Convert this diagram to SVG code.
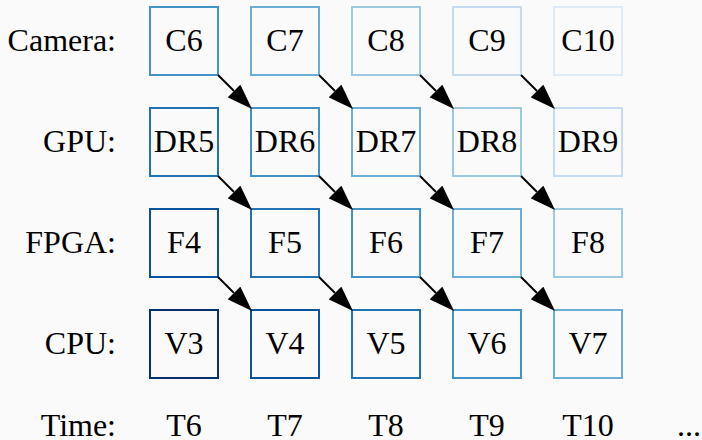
<svg xmlns="http://www.w3.org/2000/svg" width="702" height="440" viewBox="0 0 702 440">
  <defs>
    <marker id="head" markerUnits="userSpaceOnUse" markerWidth="26" markerHeight="18" refX="0" refY="9" orient="auto" viewBox="0 0 26 18">
      <path d="M0,0 L25.5,9 L0,18 Z" fill="#000"/>
    </marker>
  </defs>
  <rect width="702" height="440" fill="#fafafa"/>

  <!-- row labels -->
  <g id="labels" text-anchor="end">
    <text x="116" y="51" font-family="Liberation Serif" font-size="32">Camera:</text>
    <text x="116" y="152" font-family="Liberation Serif" font-size="32">GPU:</text>
    <text x="116" y="253" font-family="Liberation Serif" font-size="32">FPGA:</text>
    <text x="116" y="354" font-family="Liberation Serif" font-size="32">CPU:</text>
    <text x="116" y="436" font-family="Liberation Serif" font-size="32">Time:</text>
  </g>

  <g fill="none" stroke-width="2" text-anchor="middle">
  <!-- camera row -->
  <g id="C6"><rect stroke="#4292c6" x="150" y="7" width="68" height="68"/><text fill="#000" x="184" y="51" font-family="Liberation Serif" font-size="32">C6</text></g>
  <g id="C7"><rect stroke="#6baed6" x="251" y="7" width="68" height="68"/><text fill="#000" x="285" y="51" font-family="Liberation Serif" font-size="32">C7</text></g>
  <g id="C8"><rect stroke="#9ecae1" x="352" y="7" width="68" height="68"/><text fill="#000" x="386" y="51" font-family="Liberation Serif" font-size="32">C8</text></g>
  <g id="C9"><rect stroke="#c6dbef" x="453" y="7" width="68" height="68"/><text fill="#000" x="487" y="51" font-family="Liberation Serif" font-size="32">C9</text></g>
  <g id="C10"><rect stroke="#deebf7" x="554" y="7" width="68" height="68"/><text fill="#000" x="588" y="51" font-family="Liberation Serif" font-size="32">C10</text></g>

  <!-- GPU row -->
  <g id="DR5"><rect stroke="#2171b5" x="150" y="108" width="68" height="68"/><text fill="#000" x="184" y="152" font-family="Liberation Serif" font-size="32">DR5</text></g>
  <g id="DR6"><rect stroke="#4292c6" x="251" y="108" width="68" height="68"/><text fill="#000" x="285" y="152" font-family="Liberation Serif" font-size="32">DR6</text></g>
  <g id="DR7"><rect stroke="#6baed6" x="352" y="108" width="68" height="68"/><text fill="#000" x="386" y="152" font-family="Liberation Serif" font-size="32">DR7</text></g>
  <g id="DR8"><rect stroke="#9ecae1" x="453" y="108" width="68" height="68"/><text fill="#000" x="487" y="152" font-family="Liberation Serif" font-size="32">DR8</text></g>
  <g id="DR9"><rect stroke="#c6dbef" x="554" y="108" width="68" height="68"/><text fill="#000" x="588" y="152" font-family="Liberation Serif" font-size="32">DR9</text></g>

  <!-- FPGA row -->
  <g id="F4"><rect stroke="#08519c" x="150" y="209" width="68" height="68"/><text fill="#000" x="184" y="253" font-family="Liberation Serif" font-size="32">F4</text></g>
  <g id="F5"><rect stroke="#2171b5" x="251" y="209" width="68" height="68"/><text fill="#000" x="285" y="253" font-family="Liberation Serif" font-size="32">F5</text></g>
  <g id="F6"><rect stroke="#4292c6" x="352" y="209" width="68" height="68"/><text fill="#000" x="386" y="253" font-family="Liberation Serif" font-size="32">F6</text></g>
  <g id="F7"><rect stroke="#6baed6" x="453" y="209" width="68" height="68"/><text fill="#000" x="487" y="253" font-family="Liberation Serif" font-size="32">F7</text></g>
  <g id="F8"><rect stroke="#9ecae1" x="554" y="209" width="68" height="68"/><text fill="#000" x="588" y="253" font-family="Liberation Serif" font-size="32">F8</text></g>

  <!-- CPU row -->
  <g id="V3"><rect stroke="#08306b" x="150" y="310" width="68" height="68"/><text fill="#000" x="184" y="354" font-family="Liberation Serif" font-size="32">V3</text></g>
  <g id="V4"><rect stroke="#08519c" x="251" y="310" width="68" height="68"/><text fill="#000" x="285" y="354" font-family="Liberation Serif" font-size="32">V4</text></g>
  <g id="V5"><rect stroke="#2171b5" x="352" y="310" width="68" height="68"/><text fill="#000" x="386" y="354" font-family="Liberation Serif" font-size="32">V5</text></g>
  <g id="V6"><rect stroke="#4292c6" x="453" y="310" width="68" height="68"/><text fill="#000" x="487" y="354" font-family="Liberation Serif" font-size="32">V6</text></g>
  <g id="V7"><rect stroke="#6baed6" x="554" y="310" width="68" height="68"/><text fill="#000" x="588" y="354" font-family="Liberation Serif" font-size="32">V7</text></g>
  </g>

  <!-- time axis -->
  <g id="time" text-anchor="middle">
    <text x="184" y="436" font-family="Liberation Serif" font-size="32">T6</text>
    <text x="285" y="436" font-family="Liberation Serif" font-size="32">T7</text>
    <text x="386" y="436" font-family="Liberation Serif" font-size="32">T8</text>
    <text x="487" y="436" font-family="Liberation Serif" font-size="32">T9</text>
    <text x="588" y="436" font-family="Liberation Serif" font-size="32">T10</text>
    <text x="689" y="436" font-family="Liberation Serif" font-size="32">...</text>
  </g>

  <!-- pipeline hand-offs: each stage passes its frame to the next stage one step later -->
  <g id="edges" stroke="#000" stroke-width="2" fill="none" marker-end="url(#head)">
    <path d="M218,75 l16,16"/>
    <path d="M319,75 l16,16"/>
    <path d="M420,75 l16,16"/>
    <path d="M521,75 l16,16"/>
    <path d="M218,176 l16,16"/>
    <path d="M319,176 l16,16"/>
    <path d="M420,176 l16,16"/>
    <path d="M521,176 l16,16"/>
    <path d="M218,277 l16,16"/>
    <path d="M319,277 l16,16"/>
    <path d="M420,277 l16,16"/>
    <path d="M521,277 l16,16"/>
  </g>
</svg>
